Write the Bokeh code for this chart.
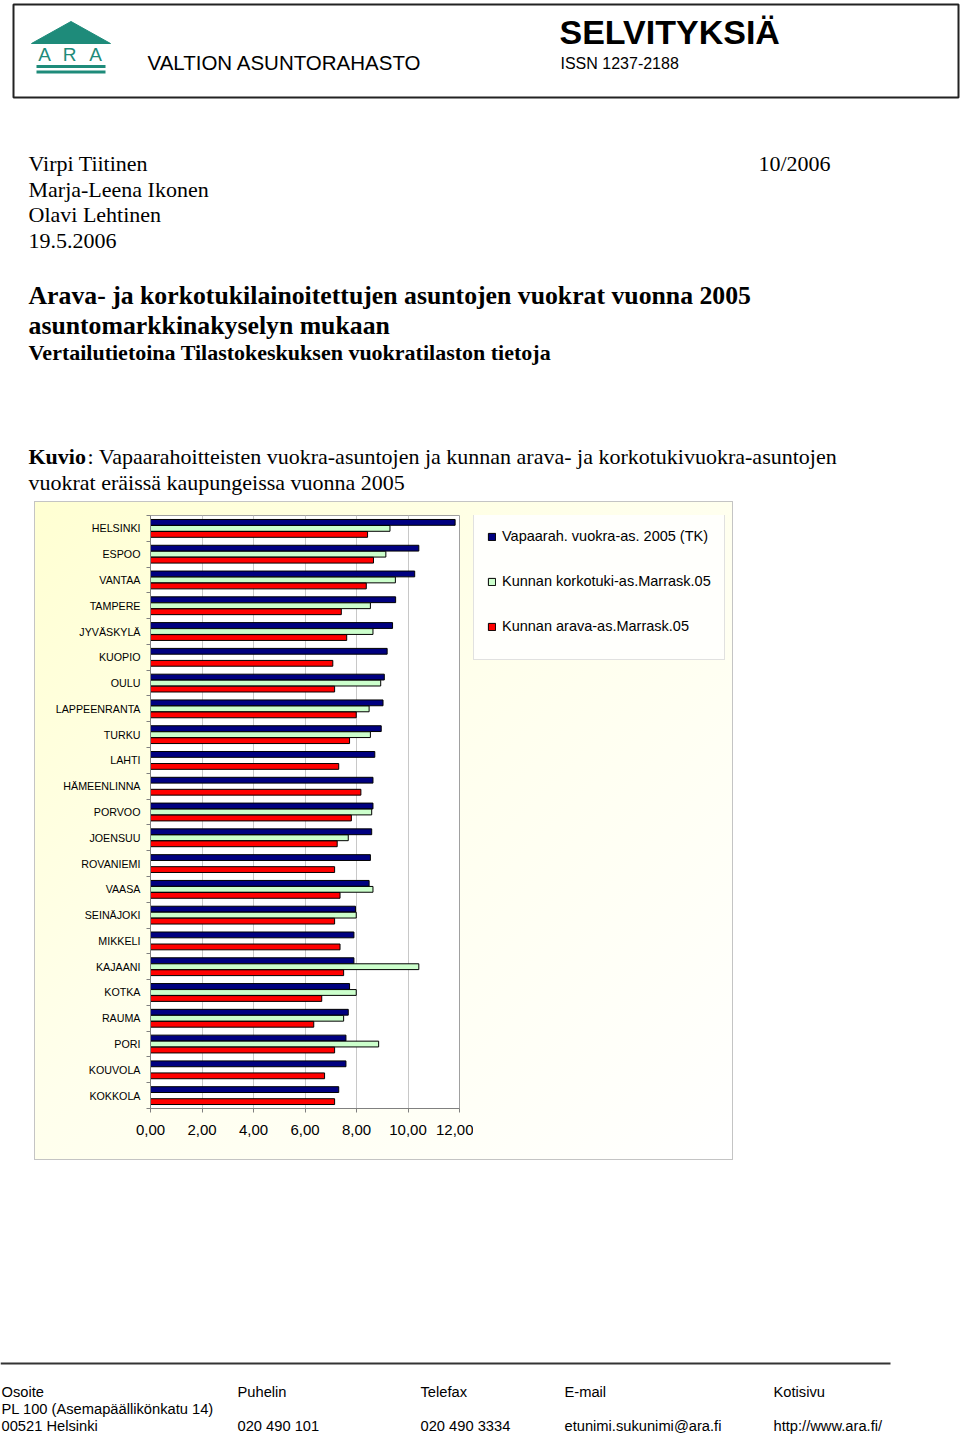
from bokeh.plotting import figure
from bokeh.models import (Range1d, FixedTicker, CustomJSTickFormatter, ColumnDataSource,
                          Legend, LegendItem, Spacer)
from bokeh.layouts import column, row
from bokeh.transform import dodge
from bokeh.core.properties import value
from bokeh.embed import file_html
from bokeh.resources import INLINE

# ---------------- chart data ----------------
cities = ["HELSINKI", "ESPOO", "VANTAA", "TAMPERE", "JYVÄSKYLÄ", "KUOPIO", "OULU",
          "LAPPEENRANTA", "TURKU", "LAHTI", "HÄMEENLINNA", "PORVOO", "JOENSUU",
          "ROVANIEMI", "VAASA", "SEINÄJOKI", "MIKKELI", "KAJAANI", "KOTKA", "RAUMA",
          "PORI", "KOUVOLA", "KOKKOLA"]
vapaarah = [11.83, 10.42, 10.26, 9.52, 9.40, 9.19, 9.08, 9.03, 8.96, 8.71, 8.64, 8.64,
            8.59, 8.54, 8.49, 7.96, 7.90, 7.90, 7.73, 7.68, 7.59, 7.59, 7.31]
korkotuki = [9.30, 9.14, 9.51, 8.54, 8.64, None, 8.94, 8.49, 8.54, None, None, 8.59,
             7.68, None, 8.64, 7.99, None, 10.42, 7.99, 7.50, 8.86, None, None]
arava = [8.43, 8.66, 8.38, 7.41, 7.62, 7.08, 7.15, 7.99, 7.73, 7.31, 8.17, 7.80,
         7.25, 7.15, 7.36, 7.15, 7.36, 7.50, 6.65, 6.34, 7.15, 6.76, 7.15]
series_names = ["Vapaarah. vuokra-as. 2005 (TK)", "Kunnan korkotuki-as.Marrask.05",
                "Kunnan arava-as.Marrask.05"]
series_colors = ["#000080", "#CCFFCC", "#FF0000"]
x_ticks = [0, 2, 4, 6, 8, 10, 12]

# ---------------- page texts ----------------
org_name = "VALTION ASUNTORAHASTO"
series_title = "SELVITYKSIÄ"
issn = "ISSN 1237-2188"
logo_letters = ["A", "R", "A"]
authors = ["Virpi Tiitinen", "Marja-Leena Ikonen", "Olavi Lehtinen", "19.5.2006"]
issue = "10/2006"
title_lines = ["Arava- ja korkotukilainoitettujen asuntojen vuokrat vuonna 2005",
               "asuntomarkkinakyselyn mukaan"]
subtitle = "Vertailutietoina Tilastokeskuksen vuokratilaston tietoja"
kuvio_bold = "Kuvio"
kuvio_lines = [": Vapaarahoitteisten vuokra-asuntojen ja kunnan arava- ja korkotukivuokra-asuntojen",
               "vuokrat eräissä kaupungeissa vuonna 2005"]
footer_cols = [["Osoite", "PL 100 (Asemapäällikönkatu 14)", "00521 Helsinki"],
               ["Puhelin", "", "020 490 101"],
               ["Telefax", "", "020 490 3334"],
               ["E-mail", "", "etunimi.sukunimi@ara.fi"],
               ["Kotisivu", "", "http://www.ara.fi/"]]

SANS = value("Liberation Sans")
SERIF = value("Liberation Serif")
TEAL = "#1E8B7A"


def page_fig(w, h, top, bottom):
    f = figure(width=w, height=h, x_range=Range1d(0, w), y_range=Range1d(bottom, top),
               x_axis_type=None, y_axis_type=None, min_border=0, toolbar_location=None,
               output_backend="svg", outline_line_color=None,
               background_fill_color="white", border_fill_color="white")
    return f


# ---------------- header ----------------
head = page_fig(960, 501, 0, 501)
head.quad(left=[13], right=[958], top=[4], bottom=[97], fill_color=None,
          line_color="#222222", line_width=2)
# logo
head.patch(x=[31, 110, 70.5], y=[43, 43, 21], fill_color=TEAL, line_color=TEAL)
head.quad(left=[36, 36], right=[105, 105], top=[64.5, 70], bottom=[67.5, 73],
          fill_color=TEAL, line_color=None)
head.text(x=[44, 69, 95], y=[54, 54, 54], text=logo_letters, text_font=SANS,
          text_font_size="19px", text_color=TEAL, text_align="center",
          text_baseline="middle")
head.text(x=[147], y=[62], text=[org_name], text_font=SANS, text_font_size="20.5px",
          text_color="black", text_baseline="middle")
head.text(x=[559], y=[31], text=[series_title], text_font=SANS, text_font_size="34px",
          text_font_style="bold", text_color="black", text_baseline="middle")
head.text(x=[560], y=[63], text=[issn], text_font=SANS, text_font_size="16px",
          text_color="black", text_baseline="middle")
head.text(x=[28] * 4, y=[163, 189, 214, 240], text=authors, text_font=SERIF,
          text_font_size="22px", text_color="black", text_baseline="middle")
head.text(x=[758], y=[163], text=[issue], text_font=SERIF, text_font_size="22px",
          text_color="black", text_baseline="middle")
head.text(x=[28, 28], y=[295, 325], text=title_lines, text_font=SERIF,
          text_font_size="25.75px", text_font_style="bold", text_color="black",
          text_baseline="middle")
head.text(x=[28], y=[352], text=[subtitle], text_font=SERIF, text_font_size="22px",
          text_font_style="bold", text_color="black", text_baseline="middle")
head.text(x=[28], y=[456], text=[kuvio_bold], text_font=SERIF, text_font_size="22px",
          text_font_style="bold", text_color="black", text_baseline="middle")
head.text(x=[87, 28], y=[456, 482], text=kuvio_lines, text_font=SERIF,
          text_font_size="22px", text_color="black", text_baseline="middle")

# ---------------- chart ----------------
n = len(cities)
chart = figure(frame_width=309, frame_height=593, x_range=Range1d(0, 12), y_range=Range1d(n, 0),
               min_border_left=116, min_border_right=14, min_border_top=14,
               min_border_bottom=52, toolbar_location=None, output_backend="svg",
               border_fill_color=None, background_fill_color="white",
               outline_line_color="#A0A0A0")

pos = [i + 0.5 for i in range(n)]
src_main = ColumnDataSource(dict(pos=pos, city=cities, v=vapaarah, a=arava))
kk_pos = [p for p, k in zip(pos, korkotuki) if k is not None]
kk_val = [k for k in korkotuki if k is not None]
src_kk = ColumnDataSource(dict(pos=kk_pos, k=kk_val))

bh = 0.225
off = 0.233
bar_specs = [("v", src_main, -off), ("k", src_kk, 0.0), ("a", src_main, off)]
for (col, src, dy), color in zip(bar_specs, series_colors):
    chart.hbar(y=dodge("pos", dy, range=chart.y_range), left=0, right=col, height=bh,
               source=src, fill_color=color, line_color="black", line_width=1)

xa = chart.xaxis[0]
xa.ticker = FixedTicker(ticks=x_ticks)
xa.formatter = CustomJSTickFormatter(code="return tick.toFixed(2).replace('.', ',');")
xa.major_label_text_font = "Liberation Sans"
xa.major_label_text_font_size = "15px"
xa.major_label_text_color = "black"
xa.axis_line_color = "#808080"
xa.major_tick_line_color = "#808080"
xa.major_tick_in = 0
xa.major_tick_out = 4
xa.minor_tick_line_color = None
xa.major_label_standoff = 12

ya = chart.yaxis[0]
ya.ticker = FixedTicker(ticks=pos, minor_ticks=list(range(n + 1)))
ya.formatter = CustomJSTickFormatter(args=dict(labels=cities),
                                     code="return labels[Math.floor(tick)];")
ya.major_label_text_font = "Liberation Sans"
ya.major_label_text_font_size = "10.7px"
ya.major_label_text_color = "black"
ya.axis_line_color = "#808080"
ya.major_tick_line_color = None
ya.major_tick_in = 0
ya.major_tick_out = 0
ya.minor_tick_line_color = "#808080"
ya.minor_tick_in = 0
ya.minor_tick_out = 4
ya.major_label_standoff = 6

chart.ygrid.visible = False
chart.xgrid.grid_line_color = "#C8C8C8"
chart.xgrid.grid_line_width = 1

# ---------------- legend panel (separate figure next to chart) ----------------
leg_fig = figure(width=260, height=659, x_range=Range1d(0, 12), y_range=Range1d(n, 0),
                 x_axis_type=None, y_axis_type=None, min_border=0, toolbar_location=None,
                 output_backend="svg", outline_line_color=None,
                 background_fill_color=None, border_fill_color=None)
leg_srcs = [src_main, src_kk, src_main]
leg_cols = ["v", "k", "a"]
items = []
for name, color, src, col in zip(series_names, series_colors, leg_srcs, leg_cols):
    r = leg_fig.hbar(y="pos", left=0, right=col, height=bh, source=src,
                     fill_color=color, line_color="black", line_width=1, visible=False)
    items.append(LegendItem(label=name, renderers=[r]))

legend = Legend(items=items, location=(0, 448), orientation="vertical")
legend.glyph_width = 9
legend.glyph_height = 9
legend.label_height = 40
legend.spacing = 5
legend.padding = 13
legend.margin = 0
legend.label_standoff = 6
legend.label_text_font = "Liberation Sans"
legend.label_text_font_size = "14.5px"
legend.label_text_color = "black"
legend.border_line_color = "#C4C4C4"
legend.background_fill_color = "#FFFFFC"
legend.background_fill_alpha = 1
legend.inactive_fill_alpha = 0
leg_fig.add_layout(legend, "center")

chart_box = row(chart, leg_fig, width=699, height=659,
                styles={"background": "linear-gradient(135deg, #FFFFD2 0%, #FFFFEC 45%, #FFFFFF 100%)",
                        "outline": "1px solid #C4C4C4", "outline-offset": "-1px"})
mid = row(Spacer(width=34, height=659), chart_box, Spacer(width=227, height=659))

# ---------------- footer ----------------
foot = page_fig(960, 275, 1160, 1435)
foot.segment(x0=[0], y0=[1363], x1=[890], y1=[1363], line_color="#333333", line_width=2)
col_x = [1, 237, 420, 564, 773]
row_y = [1391, 1408, 1425]
fx, fy, ft = [], [], []
for cx, col in zip(col_x, footer_cols):
    for ry, t in zip(row_y, col):
        if t:
            fx.append(cx)
            fy.append(ry)
            ft.append(t)
foot.text(x=fx, y=fy, text=ft, text_font=SANS, text_font_size="14.7px",
          text_color="black", text_baseline="middle")

page = column(head, mid, foot)
open("out.html", "w").write(file_html(page, INLINE))
